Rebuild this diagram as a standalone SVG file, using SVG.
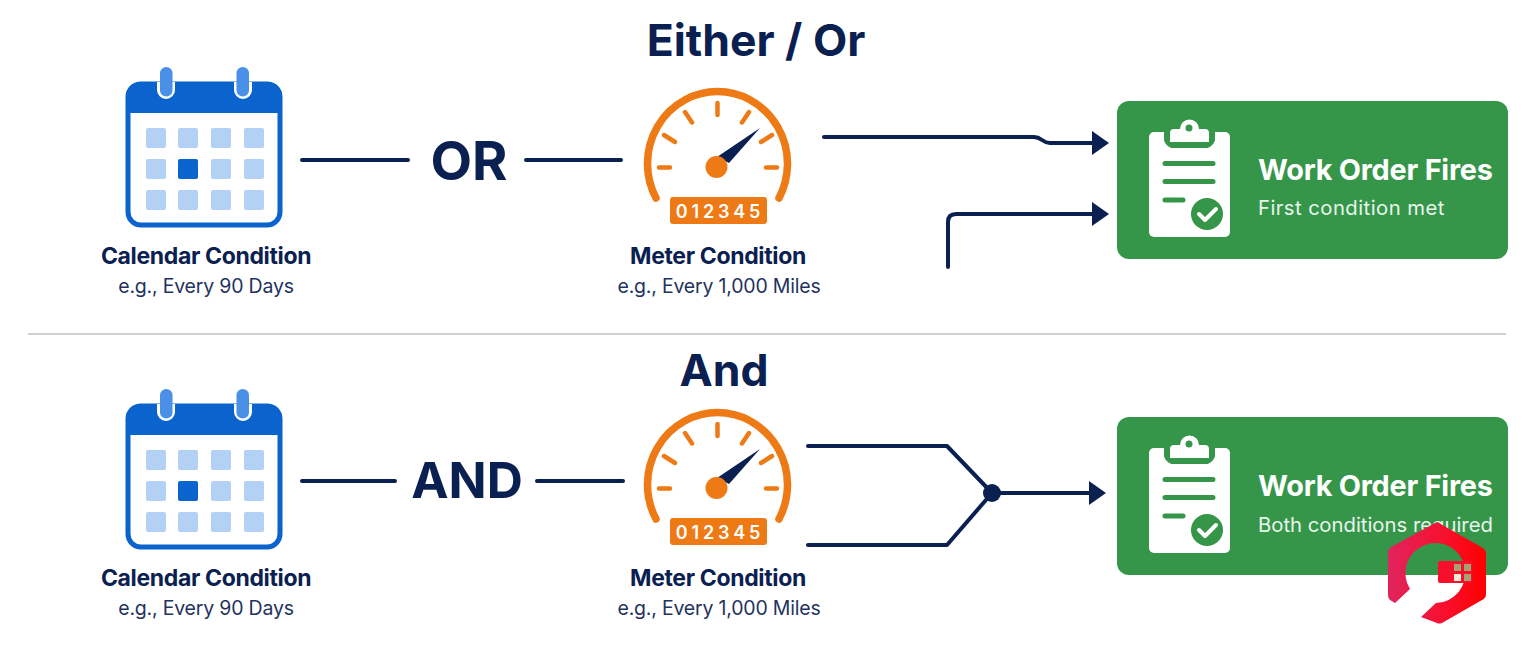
<svg xmlns="http://www.w3.org/2000/svg" width="1536" height="672" viewBox="0 0 1536 672">
<style>
text{font-family:"Inter","Liberation Sans",sans-serif}
.title{font-size:44.500px;font-weight:700;text-anchor:middle;fill:#0a2050}
.op{font-weight:700;text-anchor:middle;fill:#0a2050}
.lbl{font-size:23px;font-weight:700;text-anchor:middle;fill:#0a2050;letter-spacing:-.35px}
.sub{font-size:19.500px;text-anchor:middle;fill:#1f3360;letter-spacing:-.2px}
.ct{font-size:28.800px;font-weight:700;fill:#fff;letter-spacing:-.2px}
.cs{font-size:20.300px;fill:#e8f5ea}
.wire{fill:none;stroke:#0a2050;stroke-width:4;stroke-linecap:round;stroke-linejoin:round}
.sq{fill:#b3d0f5}
.tick{stroke:#ee7a16;stroke-width:4.500;stroke-linecap:round;fill:none}
.gl{stroke:#35964a;stroke-width:5;stroke-linecap:round;fill:none}
</style>
<defs>
<marker id="ah" markerUnits="userSpaceOnUse" markerWidth="18" markerHeight="24" refX="1" refY="12" orient="auto"><path d="M0 0L17 12L0 24Z" fill="#0a2050"/></marker>
<linearGradient id="wm" x1="0" x2="1" y1="0" y2="0"><stop offset="0" stop-color="#e0245e"/><stop offset=".6" stop-color="#f80f2c"/><stop offset="1" stop-color="#ff0000"/></linearGradient>
<g id="cal">
<rect x="128" y="84" width="152" height="141" rx="13" fill="#fff" stroke="#0b63ce" stroke-width="5"/>
<path d="M126 113V96a14 14 0 0 1 14-14H268a14 14 0 0 1 14 14V113Z" fill="#0b63ce"/>
<path d="M157 82H175V90a9 9 0 0 1-18 0ZM234 82H252V90a9 9 0 0 1-18 0Z" fill="#fff"/>
<rect x="160" y="67" width="12.500" height="29.500" rx="6.250" fill="#4a90e6"/><rect x="236.500" y="67" width="12.500" height="29.500" rx="6.250" fill="#4a90e6"/>
<g class="sq">
<rect x="146" y="128" width="20" height="20" rx="2"/><rect x="178" y="128" width="20" height="20" rx="2"/><rect x="211" y="128" width="20" height="20" rx="2"/><rect x="244" y="128" width="20" height="20" rx="2"/>
<rect x="146" y="159" width="20" height="20" rx="2"/><rect x="178" y="159" width="20" height="20" rx="2" fill="#0b63ce"/><rect x="211" y="159" width="20" height="20" rx="2"/><rect x="244" y="159" width="20" height="20" rx="2"/>
<rect x="146" y="190" width="20" height="20" rx="2"/><rect x="178" y="190" width="20" height="20" rx="2"/><rect x="211" y="190" width="20" height="20" rx="2"/><rect x="244" y="190" width="20" height="20" rx="2"/>
</g>
</g>
<g id="gauge">
<path d="M656 198A70 72 0 1 1 779 198" fill="none" stroke="#ee7a16" stroke-width="7.500" stroke-linecap="round"/>
<path class="tick" d="M659 167.500H670M664 135L675 142M685 112L692 122.500M717.500 103V115M749 112L742 122.500M772 135L761 142M766 167.500H777"/>
<path d="M760 128L717 157L729 163Z" fill="#0a2050"/>
<circle cx="716.500" cy="167" r="11" fill="#ee7a16"/>
<rect x="670" y="197" width="97" height="27" rx="3" fill="#ee7a16"/>
<text x="720" y="217.500" text-anchor="middle" font-size="18" font-weight="600" fill="#fff" letter-spacing="3.800">012345</text>
</g>
<g id="board">
<rect x="1149" y="132" width="81" height="105" rx="5" fill="#fff"/>
<path d="M1166 132V140a10 10 0 0 0 6 6H1207a10 10 0 0 0 6 -6V132" fill="#35964a" stroke="#35964a" stroke-width="4"/>
<path d="M1170 142V133a4 4 0 0 1 4-4H1180a9.500 9.500 0 0 1 19 0H1205a4 4 0 0 1 4 4V142Z" fill="#fff"/>
<circle cx="1189" cy="128" r="3.500" fill="#35964a"/>
<path class="gl" d="M1165 163.500H1213M1165 181.500H1213M1165 200H1183"/>
<circle cx="1207" cy="214" r="16" fill="#35964a"/>
<path d="M1199 214L1205 220L1216 209" fill="none" stroke="#fff" stroke-width="4" stroke-linecap="round" stroke-linejoin="round"/>
</g>
</defs>
<rect width="1536" height="672" fill="#fff"/>

<g id="title-either"><text class="title" x="756" y="56">Either / Or</text></g>
<g id="node-cal-1"><use href="#cal"/><text class="lbl" x="206" y="264">Calendar Condition</text><text class="sub" x="206" y="293">e.g., Every 90 Days</text></g>
<g id="node-or"><text class="op" font-size="54" x="469" y="180">OR</text></g>
<g id="node-meter-1"><use href="#gauge"/><text class="lbl" x="718" y="264">Meter Condition</text><text class="sub" x="719" y="293">e.g., Every 1,000 Miles</text></g>
<g id="node-card-1"><rect x="1117" y="101" width="391" height="158" rx="12" fill="#35964a"/><use href="#board"/><text class="ct" x="1258" y="180">Work Order Fires</text><text class="cs" x="1258" y="215" letter-spacing=".45">First condition met</text></g>

<line id="divider" x1="28" y1="334" x2="1506" y2="334" stroke="#cfcfcf" stroke-width="2"/>

<g id="title-and"><text class="title" x="724" y="386">And</text></g>
<g id="node-cal-2"><use href="#cal" y="322"/><text class="lbl" x="206" y="586">Calendar Condition</text><text class="sub" x="206" y="615">e.g., Every 90 Days</text></g>
<g id="node-and"><text class="op" font-size="50" x="467" y="498">AND</text></g>
<g id="node-meter-2"><use href="#gauge" y="321"/><text class="lbl" x="718" y="586">Meter Condition</text><text class="sub" x="719" y="615">e.g., Every 1,000 Miles</text></g>
<g id="node-card-2"><rect x="1117" y="417" width="391" height="158" rx="12" fill="#35964a"/><use href="#board" y="316"/><text class="ct" x="1258" y="496">Work Order Fires</text><text class="cs" x="1258" y="532">Both conditions required</text></g>

<g id="connectors">
<path class="wire" d="M302 160H408M526 160H621"/>
<path class="wire" d="M824 137H1034C1042 137 1042 143 1050 143H1093" marker-end="url(#ah)"/>
<path class="wire" d="M948 267V222Q948 214 956 214H1093" marker-end="url(#ah)"/>
<path class="wire" d="M302 481H395M537 481H623"/>
<path class="wire" d="M808 446H947L992 493M808 545H947L992 493"/>
<path class="wire" d="M992 493H1090" marker-end="url(#ah)"/>
<circle cx="992" cy="493" r="9" fill="#0a2050"/>
</g>

<g id="watermark">
<path d="M1437 522L1483 548Q1486 550 1486 554V594Q1486 598 1482 600L1442 623Q1439 624 1437 623L1421 617L1436 603A30 30 0 1 0 1410 589L1395 603L1390 600Q1388 598 1388 595V552Q1388 549 1391 547Z" fill="url(#wm)"/>
<rect x="1438" y="561" width="34" height="22" rx="2" fill="#f80f2c"/>
<g fill="#a8a070"><rect x="1454" y="564" width="7" height="7"/><rect x="1464" y="564" width="7" height="7"/><rect x="1464" y="574" width="7" height="7"/></g>
<rect x="1454" y="574" width="7" height="7" fill="#f5ead8"/>
</g>
</svg>
